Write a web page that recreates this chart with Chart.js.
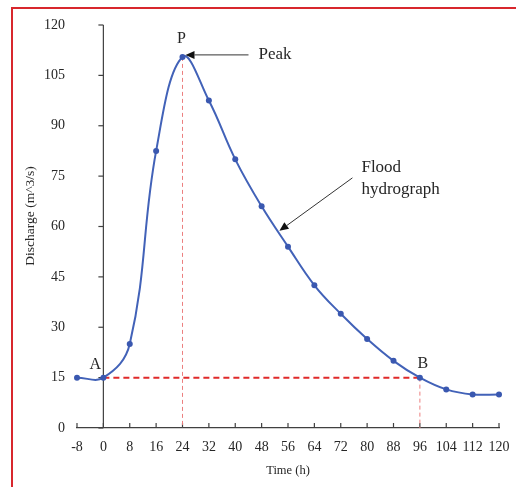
<!DOCTYPE html>
<html><head><meta charset="utf-8">
<script src="https://cdn.jsdelivr.net/npm/chart.js@4/dist/chart.umd.min.js"></script>
<style>
html,body{margin:0;padding:0;background:#fff;}
#frame{position:absolute;left:11px;top:7px;width:505px;height:480px;border-top:2px solid #d8272d;border-left:2px solid #d8272d;}
#wrap{position:absolute;left:0;top:0;width:516px;height:487px;}
</style></head><body>
<div id="frame"></div>
<div id="wrap"><canvas id="c" width="516" height="487"></canvas></div>
<script>
// ---- data ----
const hours = [-8, 0, 8, 16, 24, 32, 40, 48, 56, 64, 72, 80, 88, 96, 104, 112, 120];
const discharge = [15, 15, 25, 82.5, 110.5, 97.5, 80, 66, 54, 42.5, 34, 26.5, 20, 15, 11.5, 10, 10];
const xRange = [-8, 120];
const xStep = 8;
const yRange = [0, 120];
const yStep = 15;
const pointA = {x: 0, y: 15};
const pointB = {x: 96, y: 15};
const peakPoint = {x: 24, y: 110.5};
const floodArrowTip = {x: 53.4, y: 58.7};

const FONT = "'Liberation Serif', 'Times New Roman', serif";
const AXIS = '#404040';
const TEXT = '#262626';

const mainData = hours.map((h, i) => ({x: h, y: discharge[i]}));

function arrow(ctx, x1, y1, x2, y2) {
  const ang = Math.atan2(y2 - y1, x2 - x1);
  const L = 9, W = 4;
  const bx = x2 - L * Math.cos(ang), by = y2 - L * Math.sin(ang);
  ctx.beginPath();
  ctx.moveTo(x1, y1); ctx.lineTo(bx, by); ctx.stroke();
  ctx.beginPath();
  ctx.moveTo(x2, y2);
  ctx.lineTo(bx + W * Math.sin(ang), by - W * Math.cos(ang));
  ctx.lineTo(bx - W * Math.sin(ang), by + W * Math.cos(ang));
  ctx.closePath(); ctx.fill();
}

const decor = {
  id: 'decor',
  beforeDatasetsDraw(chart) {
    const {ctx, scales: {x, y}} = chart;
    ctx.save();
    ctx.strokeStyle = AXIS; ctx.lineWidth = 1.2;
    // vertical axis at x = 0
    const x0 = x.getPixelForValue(0);
    ctx.beginPath();
    ctx.moveTo(x0, y.getPixelForValue(yRange[1])); ctx.lineTo(x0, y.getPixelForValue(0)); ctx.stroke();
    for (let v = yRange[0]; v <= yRange[1]; v += yStep) {
      const py = y.getPixelForValue(v);
      ctx.beginPath(); ctx.moveTo(x0 - 5, py); ctx.lineTo(x0, py); ctx.stroke();
    }
    // inward x ticks
    const yb = y.getPixelForValue(0);
    for (let v = xRange[0]; v <= xRange[1]; v += xStep) {
      const px = x.getPixelForValue(v);
      ctx.beginPath(); ctx.moveTo(px, yb); ctx.lineTo(px, yb - 5); ctx.stroke();
    }
    ctx.restore();
  },
  afterDatasetsDraw(chart) {
    const {ctx, scales: {x, y}} = chart;
    ctx.save();
    ctx.fillStyle = TEXT;
    ctx.textBaseline = 'middle';
    ctx.textAlign = 'center';
    ctx.font = `16px ${FONT}`;
    ctx.fillText('P', x.getPixelForValue(peakPoint.x) - 1, y.getPixelForValue(peakPoint.y) - 18);
    ctx.fillText('A', x.getPixelForValue(pointA.x) - 8, y.getPixelForValue(pointA.y) - 13);
    ctx.fillText('B', x.getPixelForValue(pointB.x) + 3, y.getPixelForValue(pointB.y) - 14);
    ctx.textAlign = 'left';
    ctx.font = `17px ${FONT}`;
    const pkx = x.getPixelForValue(peakPoint.x), pky = y.getPixelForValue(peakPoint.y);
    ctx.fillText('Peak', pkx + 76, pky - 2);
    const ftx = x.getPixelForValue(floodArrowTip.x), fty = y.getPixelForValue(floodArrowTip.y);
    ctx.fillText('Flood', ftx + 82, fty - 63);
    ctx.fillText('hydrograph', ftx + 82, fty - 41);
    ctx.strokeStyle = '#333'; ctx.fillStyle = '#111'; ctx.lineWidth = 1;
    arrow(ctx, pkx + 66, pky - 2, pkx + 3, pky - 2);
    arrow(ctx, ftx + 73, fty - 53, ftx, fty);
    // y axis title
    ctx.fillStyle = TEXT;
    ctx.font = `13.5px ${FONT}`;
    ctx.translate(30, 216);
    ctx.rotate(-Math.PI / 2);
    ctx.textAlign = 'center';
    ctx.fillText('Discharge (m^3/s)', 0, 0);
    ctx.restore();
  }
};

new Chart(document.getElementById('c'), {
  type: 'line',
  data: {
    datasets: [
      {
        data: mainData,
        borderColor: '#4262b8', backgroundColor: '#3a58b0',
        borderWidth: 2, pointRadius: 3, pointBorderWidth: 0,
        tension: 0.4, order: 0, clip: false
      },
      {
        data: [pointA, pointB],
        borderColor: '#e02a2a', borderWidth: 2, borderDash: [6, 4],
        pointRadius: 0, tension: 0, order: 1
      },
      {
        data: [peakPoint, {x: peakPoint.x, y: 0}],
        borderColor: '#ec7f7f', borderWidth: 1, borderDash: [4, 3],
        pointRadius: 0, tension: 0, order: 2
      },
      {
        data: [pointB, {x: pointB.x, y: 0}],
        borderColor: '#ec7f7f', borderWidth: 1, borderDash: [4, 3],
        pointRadius: 0, tension: 0, order: 2
      }
    ]
  },
  options: {
    responsive: false,
    animation: false,
    devicePixelRatio: 1,
    layout: {padding: {left: 0, top: 25, right: 17, bottom: 0}},
    plugins: {legend: {display: false}, tooltip: {enabled: false}},
    scales: {
      x: {
        type: 'linear', min: xRange[0], max: xRange[1],
        ticks: {stepSize: xStep, padding: 11, color: TEXT, font: {family: FONT, size: 14},
                maxRotation: 0, minRotation: 0, autoSkip: false},
        grid: {display: false, drawTicks: false},
        border: {display: true, color: AXIS, width: 1.2},
        title: {display: true, text: 'Time (h)', color: TEXT, font: {family: FONT, size: 12.5}, padding: {top: 0, bottom: 9}},
        afterFit(s) { s.height = 59; s.paddingLeft = 0; s.paddingRight = 0; }
      },
      y: {
        type: 'linear', min: yRange[0], max: yRange[1],
        ticks: {stepSize: yStep, padding: 12, color: TEXT, font: {family: FONT, size: 14}},
        grid: {display: false, drawTicks: false},
        border: {display: false},
        afterFit(s) { s.width = 77; s.paddingTop = 0; s.paddingBottom = 0; }
      }
    }
  },
  plugins: [decor]
});
</script>
</body></html>
